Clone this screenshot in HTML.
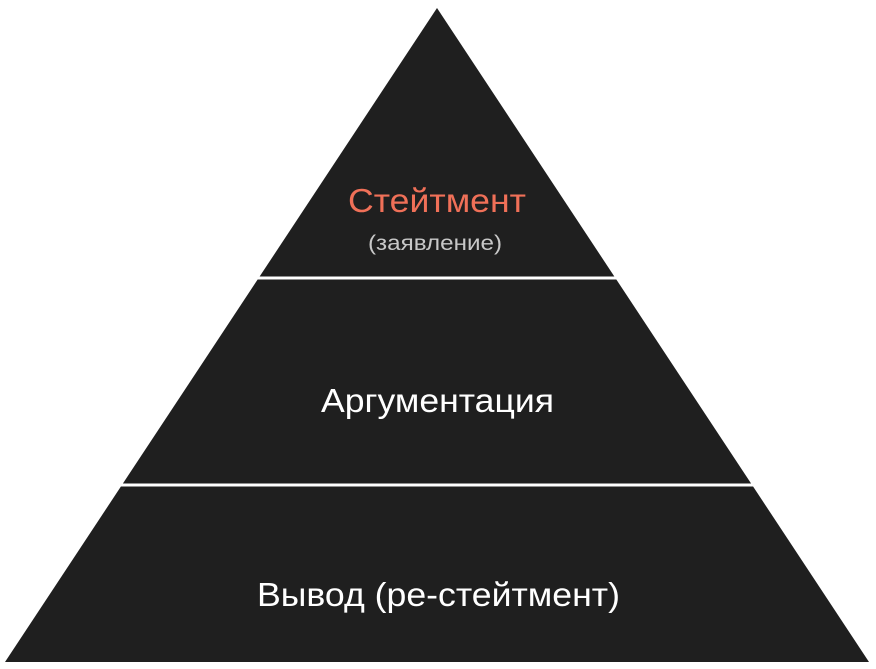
<!DOCTYPE html>
<html><head><meta charset="utf-8"><style>
html,body{margin:0;padding:0;background:#fff;}
svg{display:block;}
text{font-family:"Liberation Sans",sans-serif;}
</style></head><body>
<svg width="876" height="669" viewBox="0 0 876 669" xmlns="http://www.w3.org/2000/svg">
<polygon points="437,8 869,662 5,662" fill="#1f1f1f"/>
<rect x="0" y="276.5" width="876" height="3" fill="#fff"/>
<rect x="0" y="483.5" width="876" height="3" fill="#fff"/>
<text x="437" y="212" text-anchor="middle" font-size="33" fill="#f07058" textLength="178" lengthAdjust="spacingAndGlyphs">Стейтмент</text>
<text x="435" y="250" text-anchor="middle" font-size="21" fill="#c8c8c8" textLength="134" lengthAdjust="spacingAndGlyphs">(заявление)</text>
<text x="437.5" y="412" text-anchor="middle" font-size="33" fill="#fff" textLength="233" lengthAdjust="spacingAndGlyphs">Аргументация</text>
<text x="438.5" y="606" text-anchor="middle" font-size="33" fill="#fff" textLength="363" lengthAdjust="spacingAndGlyphs">Вывод  (ре-стейтмент)</text>
</svg>
</body></html>
